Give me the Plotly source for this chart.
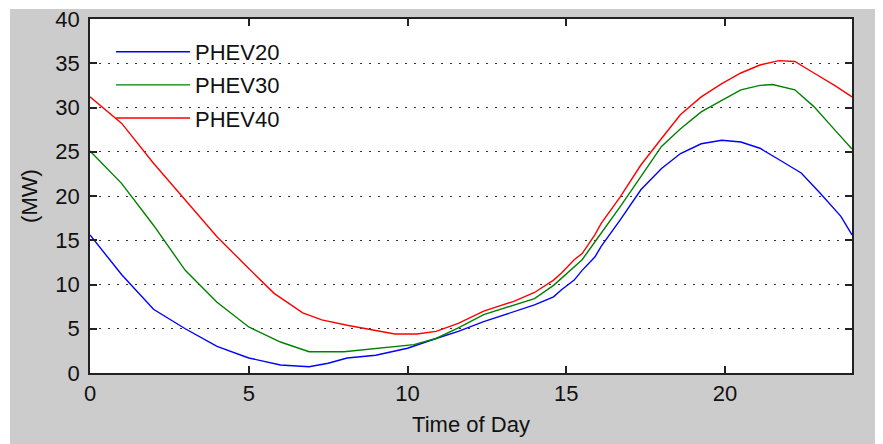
import plotly.graph_objects as go

# ---- data ----
red_t = [0, 1, 2, 3, 4, 5, 5.8, 6.7, 7.3, 8.1, 8.9, 9.6, 10.3, 10.9, 11.6, 12.4, 13.35, 14, 14.6, 14.85,
         15.25, 15.5, 15.9, 16.1, 16.7, 17.35, 18, 18.6, 19.25, 19.9, 20.5, 21.1, 21.7, 22.2, 22.8, 23.45, 24]
red_v = [31.2, 28.2, 23.7, 19.6, 15.4, 11.8, 9.0, 6.8, 6.0, 5.4, 4.9, 4.4, 4.4, 4.7, 5.6, 7.0, 8.1, 9.1, 10.5, 11.3,
         12.8, 13.5, 15.6, 16.9, 19.9, 23.5, 26.5, 29.2, 31.2, 32.7, 33.9, 34.8, 35.3, 35.2, 33.9, 32.5, 31.2]

green_t = [0, 1, 2, 3, 4, 5, 6, 6.9, 8, 9.1, 10.2, 10.9, 11.6, 12.4, 13.35, 14, 14.6, 14.85, 15.25, 15.5,
           15.9, 16.1, 16.7, 17.35, 18, 18.6, 19.25, 19.9, 20.5, 21.1, 21.5, 22.2, 22.8, 23.45, 24]
green_v = [25.1, 21.4, 16.7, 11.6, 8.0, 5.2, 3.5, 2.4, 2.4, 2.8, 3.2, 3.9, 5.1, 6.6, 7.7, 8.4, 9.9, 10.7, 12.0, 12.8,
           14.8, 15.8, 18.8, 22.2, 25.6, 27.6, 29.5, 30.8, 32.0, 32.5, 32.6, 32.0, 30.1, 27.5, 25.3]

blue_t = [0, 1, 2, 3, 4, 5, 6, 6.9, 7.5, 8.1, 9, 10, 10.9, 11.6, 12.4, 13.35, 14, 14.6, 14.85, 15.25, 15.5,
          15.9, 16.1, 16.7, 17.35, 18, 18.6, 19.25, 19.9, 20.5, 21.1, 21.8, 22.4, 23, 23.65, 24]
blue_v = [15.6, 11.1, 7.2, 5.0, 3.0, 1.7, 0.9, 0.7, 1.1, 1.7, 2.0, 2.8, 3.9, 4.7, 5.8, 6.9, 7.7, 8.6, 9.4, 10.5, 11.6,
          13.1, 14.3, 17.3, 20.7, 23.1, 24.8, 25.9, 26.3, 26.1, 25.4, 23.9, 22.6, 20.3, 17.7, 15.6]

series_names = ["PHEV20", "PHEV30", "PHEV40"]
x_ticks = [0, 5, 10, 15, 20]
y_ticks = [0, 5, 10, 15, 20, 25, 30, 35, 40]

# page body has an 8px margin; figure sized to fill the rest of the window
W, H = 875, 436
ML, MR, MT, MB = 82, 31, 11, 71
PW, PH = W - ML - MR, H - MT - MB

FONT = "Liberation Sans, Arial, sans-serif"

fig = go.Figure()
for name, t, v, c in [(series_names[0], blue_t, blue_v, "#0000ff"),
                      (series_names[1], green_t, green_v, "#008000"),
                      (series_names[2], red_t, red_v, "#ff0000")]:
    fig.add_trace(go.Scatter(x=t, y=v, mode="lines", name=name, legendgroup=name,
                             line=dict(color=c, width=1.4)))

axis_common = dict(showline=True, linecolor="#222222", linewidth=1.5, mirror="allticks",
                   ticks="inside", ticklen=7, tickcolor="#222222", tickwidth=1.5, automargin=False,
                   ticklabeloverflow="allow",
                   zeroline=False, tickfont=dict(family=FONT, size=22, color="#111111"))

fig.update_xaxes(range=[0, 24], tickvals=x_ticks, showgrid=False,
                 title=dict(text="Time of Day", font=dict(family=FONT, size=22, color="#111111"), standoff=11),
                 **axis_common)
fig.update_yaxes(range=[0, 40], tickvals=y_ticks, showgrid=True, gridcolor="#333333", gridwidth=1,
                 griddash="2px,7px", ticklabelstandoff=4,
                 title=dict(text="(MW)", font=dict(family=FONT, size=22, color="#111111"), standoff=12),
                 **axis_common)

# thin white strips so the white border is 9px at top and 10px at left
shapes = [
    dict(type="rect", xref="paper", yref="paper", layer="below", line=dict(width=0), fillcolor="white",
         x0=-ML / PW, x1=(W - ML) / PW, y0=(PH + MT - 1) / PH, y1=(PH + MT) / PH),
    dict(type="rect", xref="paper", yref="paper", layer="below", line=dict(width=0), fillcolor="white",
         x0=-ML / PW, x1=(2 - ML) / PW, y0=-MB / PH, y1=(PH + MT) / PH),
]

fig.update_layout(
    width=W, height=H,
    margin=dict(l=ML, r=MR, t=MT, b=MB, autoexpand=False),
    paper_bgcolor="#cccccc", plot_bgcolor="white",
    shapes=shapes,
    showlegend=True,
    legend=dict(x=(116 - 8 - 5 - ML) / PW, y=(PH + MT - 23) / PH, xanchor="left", yanchor="top",
                bgcolor="rgba(0,0,0,0)", borderwidth=0, itemwidth=74, tracegroupgap=1.5,
                font=dict(family=FONT, size=22, color="#111111")),
)

fig.write_html("out.html")
